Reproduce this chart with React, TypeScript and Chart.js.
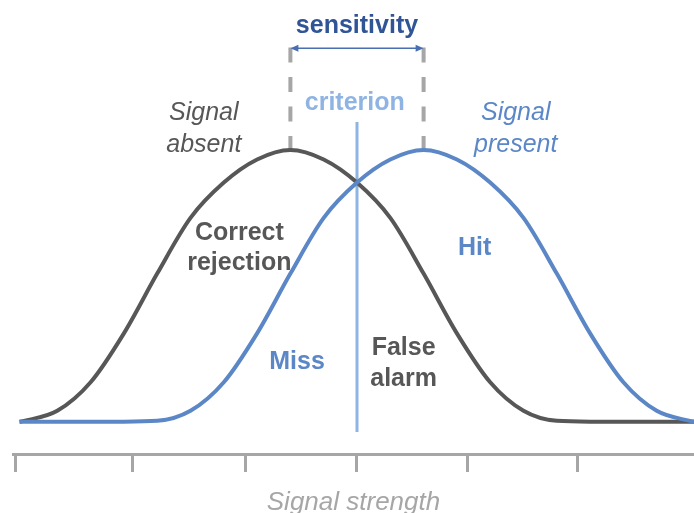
import React, { useEffect, useRef } from "react";
import { Chart, registerables } from "chart.js";

Chart.register(...registerables);

// Signal strength sample positions (x axis units)
const strengthGrid = [-3.04, -3.0, -2.7, -2.4, -2.1, -1.8, -1.5, -1.2, -0.9, -0.6, -0.3, 0, 0.3, 0.6, 0.9, 1.2, 1.5, 1.8, 2.1, 2.4, 2.7, 3.0, 3.04];
// Relative frequency of each distribution
const signalAbsent = [0, 0.003, 0.04, 0.145, 0.325, 0.545, 0.75, 0.88, 0.965, 1.0, 0.965, 0.88, 0.75, 0.545, 0.325, 0.145, 0.04, 0.003, 0, 0, 0, 0, 0];
const signalPresent = [0, 0, 0, 0, 0, 0.003, 0.04, 0.145, 0.325, 0.545, 0.75, 0.88, 0.965, 1.0, 0.965, 0.88, 0.75, 0.545, 0.325, 0.145, 0.04, 0.003, 0];

const criterionValue = 0;
const criterionSpan = [-0.038, 1.103];
const meanAbsent = -0.6;
const meanPresent = 0.6;
const dashTop = 1.377;
const arrowLevel = 1.374;
const axisTicks = [-3.08, -2.02, -1, 0, 1, 1.99];
const xRange = [-3.099, 3.036];
const yRange = [-0.119, 1.552];

const GRAY = "#575757";
const BLUE = "#5b87c7";
const LIGHT_BLUE = "#8fb4e3";
const DARK_BLUE = "#2f5597";
const AXIS_GRAY = "#a6a6a6";
const FONT = '"Liberation Sans", Arial, Helvetica, sans-serif';

const textLabels = [
  { lines: ["sensitivity"], x: 0, y: [1.431], style: "bold", color: DARK_BLUE },
  { lines: ["criterion"], x: -0.02, y: [1.147], style: "bold", color: LIGHT_BLUE },
  { lines: ["Signal", "absent"], x: -1.38, y: [1.111, 0.993], style: "italic", color: GRAY },
  { lines: ["Signal", "present"], x: 1.43, y: [1.111, 0.993], style: "italic", color: BLUE },
  { lines: ["Correct", "rejection"], x: -1.06, y: [0.668, 0.558], style: "bold", color: GRAY },
  { lines: ["Hit"], x: 1.06, y: [0.613], style: "bold", color: BLUE },
  { lines: ["Miss"], x: -0.54, y: [0.194], style: "bold", color: BLUE },
  { lines: ["False", "alarm"], x: 0.42, y: [0.245, 0.131], style: "bold", color: GRAY },
];

const overlayPlugin = {
  id: "sdtOverlay",
  afterDatasetsDraw(chart: any) {
    const { ctx, scales } = chart;
    const xs = scales.x;
    const ys = scales.y;
    ctx.save();
    // sensitivity arrow
    const x1 = xs.getPixelForValue(meanAbsent);
    const x2 = xs.getPixelForValue(meanPresent);
    const ya = ys.getPixelForValue(arrowLevel);
    ctx.strokeStyle = "#4a6fb0";
    ctx.fillStyle = "#4a6fb0";
    ctx.lineWidth = 1.5;
    ctx.beginPath();
    ctx.moveTo(x1 + 4, ya);
    ctx.lineTo(x2 - 4, ya);
    ctx.stroke();
    const head = (tip: number, dir: number) => {
      ctx.beginPath();
      ctx.moveTo(tip, ya);
      ctx.lineTo(tip - dir * 8, ya - 3.5);
      ctx.lineTo(tip - dir * 8, ya + 3.5);
      ctx.closePath();
      ctx.fill();
    };
    head(x1, -1);
    head(x2, 1);
    // texts
    ctx.textAlign = "center";
    ctx.textBaseline = "alphabetic";
    for (const lab of textLabels) {
      ctx.font = `${lab.style} 25px ${FONT}`;
      ctx.fillStyle = lab.color;
      const px = xs.getPixelForValue(lab.x);
      lab.lines.forEach((line, i) => {
        ctx.fillText(line, px, ys.getPixelForValue(lab.y[i]));
      });
    }
    ctx.restore();
  },
};

export default function App() {
  const canvasRef = useRef<HTMLCanvasElement | null>(null);

  useEffect(() => {
    if (!canvasRef.current) return;
    const absentPts = strengthGrid.map((x, i) => ({ x, y: signalAbsent[i] }));
    const presentPts = strengthGrid.map((x, i) => ({ x, y: signalPresent[i] }));
    const chart = new Chart(canvasRef.current, {
      type: "line",
      data: {
        datasets: [
          {
            label: "Signal present",
            data: presentPts,
            borderColor: BLUE,
            borderWidth: 4,
            pointRadius: 0,
            cubicInterpolationMode: "monotone",
            order: 0,
          },
          {
            label: "Signal absent",
            data: absentPts,
            borderColor: GRAY,
            borderWidth: 4,
            pointRadius: 0,
            cubicInterpolationMode: "monotone",
            order: 1,
          },
          {
            label: "criterion",
            data: [
              { x: criterionValue, y: criterionSpan[0] },
              { x: criterionValue, y: criterionSpan[1] },
            ],
            borderColor: LIGHT_BLUE,
            borderWidth: 3,
            pointRadius: 0,
            order: 2,
          },
          {
            label: "mean absent",
            data: [
              { x: meanAbsent, y: dashTop },
              { x: meanAbsent, y: 1 },
            ],
            borderColor: AXIS_GRAY,
            borderWidth: 4,
            borderDash: [15, 14.5],
            pointRadius: 0,
            order: 3,
          },
          {
            label: "mean present",
            data: [
              { x: meanPresent, y: dashTop },
              { x: meanPresent, y: 1 },
            ],
            borderColor: AXIS_GRAY,
            borderWidth: 4,
            borderDash: [15, 14.5],
            pointRadius: 0,
            order: 3,
          },
        ],
      } as any,
      options: {
        animation: false,
        responsive: false,
        layout: { padding: { left: 13, right: 0, top: 0, bottom: 0 } },
        plugins: { legend: { display: false }, tooltip: { enabled: false } },
        scales: {
          x: {
            type: "linear",
            min: xRange[0],
            max: xRange[1],
            afterBuildTicks: (scale: any) => {
              scale.ticks = axisTicks.map((v) => ({ value: v }));
            },
            ticks: { display: false },
            grid: {
              drawOnChartArea: false,
              drawTicks: true,
              tickLength: 18,
              lineWidth: 3,
              color: AXIS_GRAY,
            },
            border: { display: true, width: 3, color: AXIS_GRAY },
            title: {
              display: true,
              text: "Signal strength",
              color: AXIS_GRAY,
              font: { family: FONT, size: 26, style: "italic", lineHeight: 0.75 },
              padding: { top: 21.5, bottom: 0 },
            },
          },
          y: {
            type: "linear",
            display: false,
            min: yRange[0],
            max: yRange[1],
          },
        },
      } as any,
      plugins: [overlayPlugin],
    });
    return () => chart.destroy();
  }, []);

  return (
    <div style={{ position: "fixed", left: 0, top: 0, width: 694, height: 513, background: "#fff" }}>
      <canvas ref={canvasRef} width={694} height={513} style={{ display: "block" }} />
    </div>
  );
}
